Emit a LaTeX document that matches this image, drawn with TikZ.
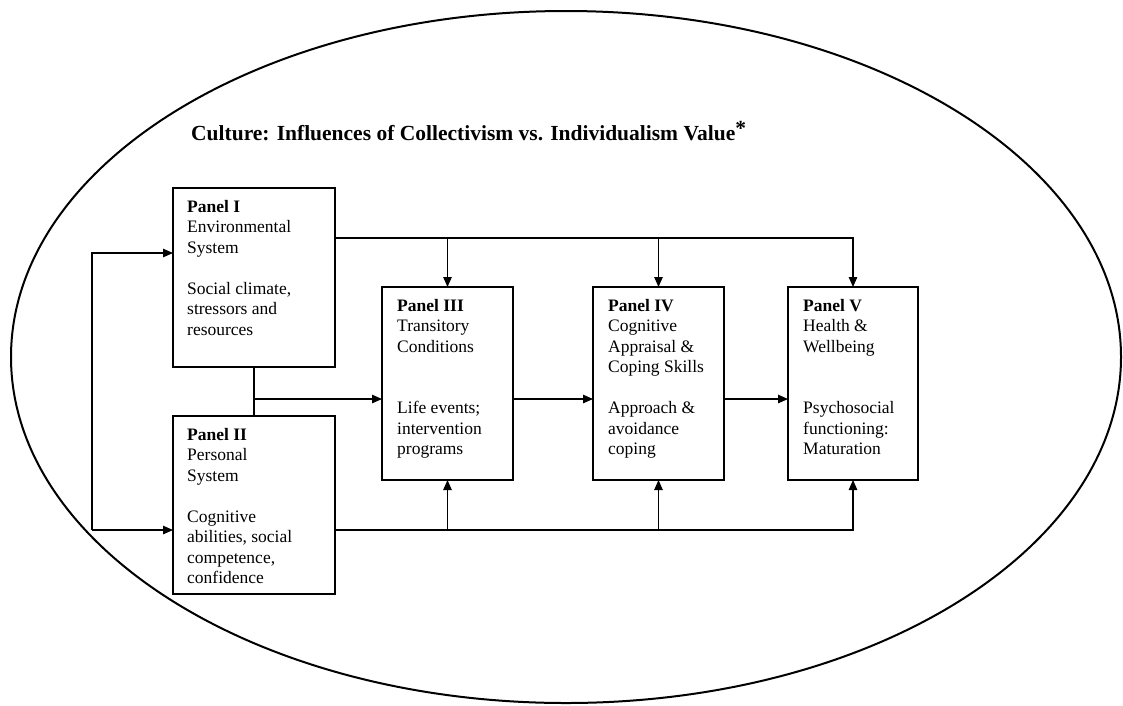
\documentclass[tikz,border=0pt]{standalone}
\usepackage{fontspec}
\setmainfont{Liberation Serif}
\usetikzlibrary{arrows.meta}
\begin{document}
\begin{tikzpicture}[x=1pt,y=-1pt,
  panel/.style={draw, line width=2.5pt, inner sep=0pt, outer sep=0pt, anchor=north west},
  ptext/.style={anchor=north west, inner sep=0pt, align=left, font=\fontsize{17.5}{20.5}\selectfont},
  conn/.style={line width=1.1pt},
  arr/.style={conn, -{Triangle[length=10pt,width=8.5pt]}},
]
\useasboundingbox (0,0) rectangle (1123,705);
\draw[line width=2pt] (566,357) ellipse [x radius=555pt, y radius=346pt];
\node[anchor=base west, inner sep=0pt, font=\bfseries\fontsize{21.5}{25}\selectfont] (title) at (191,140) {Culture: Influences of Collectivism vs. Individualism Value\raisebox{5pt}{*}};

\node[panel, minimum width=162pt, minimum height=179pt] (p1) at (173,188) {};
\node[panel, minimum width=162pt, minimum height=178pt] (p2) at (173,416) {};
\node[panel, minimum width=131pt, minimum height=193pt] (p3) at (382,287) {};
\node[panel, minimum width=131pt, minimum height=193pt] (p4) at (593,287) {};
\node[panel, minimum width=130pt, minimum height=193pt] (p5) at (788,287) {};

\node[ptext] (t1) at ([shift={(14,12)}]p1.north west) {\textbf{Panel I}\\Environmental\\System\\[20.5pt]Social climate,\\stressors and\\resources};
\node[ptext] (t2) at ([shift={(14,12)}]p2.north west) {\textbf{Panel II}\\Personal\\System\\[20.5pt]Cognitive\\abilities, social\\competence,\\confidence};
\node[ptext] (t3) at ([shift={(15,12)}]p3.north west) {\textbf{Panel III}\\Transitory\\Conditions\\[41pt]Life events;\\intervention\\programs};
\node[ptext] (t4) at ([shift={(15,12)}]p4.north west) {\textbf{Panel IV}\\Cognitive\\Appraisal \&\\Coping Skills\\[20.5pt]Approach \&\\avoidance\\coping};
\node[ptext] (t5) at ([shift={(15,12)}]p5.north west) {\textbf{Panel V}\\Health \&\\Wellbeing\\[41pt]Psychosocial\\functioning:\\Maturation};

\coordinate (ytop) at (0,238);
\coordinate (ybot) at (0,530);
\coordinate (ymid) at (0,399);
\coordinate (fa) at (92,253);
\coordinate (fb) at (92,530);

% top distribution line
\draw[arr] (p1.east |- ytop) -| (p5.north);
\draw[arr] (p3.north |- ytop) -- (p3.north);
\draw[arr] (p4.north |- ytop) -- (p4.north);
% bottom distribution line
\draw[arr] (p2.east |- ybot) -| (p5.south);
\draw[arr] (p3.south |- ybot) -- (p3.south);
\draw[arr] (p4.south |- ybot) -- (p4.south);
% feedback loop
\draw[arr] (fb) -- (fa) -- (p1.west |- fa);
\draw[arr] (fb) -- (p2.west |- fb);
% junction and chain
\draw[conn] (p1.south) -- (p2.north);
\draw[arr] (p1.south |- ymid) -- (p3.west |- ymid);
\draw[arr] (p3.east |- ymid) -- (p4.west |- ymid);
\draw[arr] (p4.east |- ymid) -- (p5.west |- ymid);
\end{tikzpicture}
\end{document}
